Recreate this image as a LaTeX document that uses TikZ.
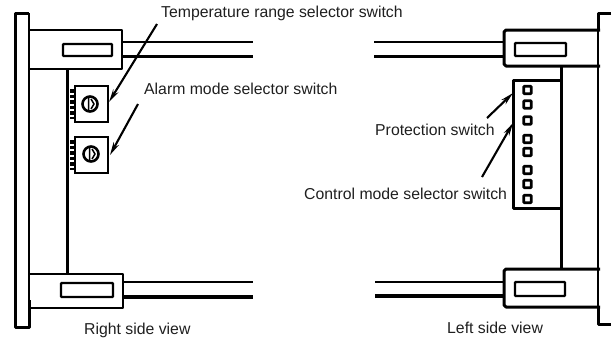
\documentclass[tikz,border=0pt]{standalone}
\usepackage{fontspec}
\setmainfont{Liberation Sans}
\usetikzlibrary{arrows.meta}
\tikzset{
 x=1pt,y=-1pt,
 outline/.style={line width=2pt,line join=round},
 heavy/.style={line width=3pt,line join=round},
 thin wire/.style={line width=2.8pt},
 thick wire/.style={line width=3.8pt},
 slot/.style={line width=2.4pt,rounded corners=0.8pt},
 label/.style={font=\fontsize{15.8pt}{18pt}\selectfont,inner sep=0pt,text=black!88},
 pointer/.style={line width=2.1pt,-{Stealth[length=13pt,width=6pt]}},
 sq/.style={draw,line width=2.6pt,minimum size=7.5pt,inner sep=0pt,rounded corners=0.8pt},
 dial/.style={draw,circle,line width=2.6pt,minimum size=15pt,inner sep=0pt},
 swbox/.style={draw,line width=2.6pt,minimum width=33pt,minimum height=36pt,inner sep=0pt},
 teeth/.style={line width=4pt,dash pattern=on 3.5pt off 2pt},
}
\begin{document}
\begin{tikzpicture}
\useasboundingbox (0,0) rectangle (612,341);
% ---- left drawing
\draw[heavy] (15,158) -- (15,327) -- (29,327) -- (29,300);
\draw[heavy] (15,158) -- (15,13) -- (29,13);
\draw[outline] (29,13) -- (29,300);
\draw[outline] (29,30) -- (122,30) -- (122,69) -- (29,69);
\draw[outline] (29,274) -- (123,274) -- (123,308) -- (29,308);
\draw[heavy] (67,68) -- (67,273);
\draw[slot] (63,44) rectangle (112,56);
\draw[slot] (61,283) rectangle (113,297);
\draw[thin wire] (122,42) -- (253,42);
\draw[thick wire] (122,56.5) -- (253,56.5);
\draw[thin wire] (123,282) -- (253,282);
\draw[thick wire] (123,297) -- (253,297);
\draw[teeth] (72,89) -- (72,119);
\draw[teeth] (72,140) -- (72,170);
\node[swbox] (sw1) at (91.5,104) {};
\node[swbox] (sw2) at (91.5,155) {};
\node[dial] (d1) at (90,104) {};
\node[dial] (d2) at (91,154) {};
\draw[line width=1.5pt] (88.5,98) -- (88.5,110) (91,99) -- (94,104) -- (91,109);
\draw[line width=1.5pt] (89.5,148) -- (89.5,160) (92,149) -- (95,154) -- (92,159);
% ---- right drawing
\draw[heavy] (611,13) -- (598,13) -- (598,30);
\draw[outline] (598,13) -- (598,323);
\draw[heavy] (598,306) -- (598,324) -- (611,324);
\draw[heavy] (600,30) -- (506,30) -- (504,32) -- (504,64) -- (506,66) -- (600,66);
\draw[heavy] (600,269) -- (506,269) -- (504,271) -- (504,305) -- (506,307) -- (600,307);
\draw[heavy] (561,66) -- (561,269);
\draw[slot] (515,43) rectangle (566,56);
\draw[slot] (515,282) rectangle (565,296);
\draw[thin wire] (374,42) -- (504,42);
\draw[thick wire] (374,56.5) -- (504,56.5);
\draw[thin wire] (375,282) -- (504,282);
\draw[thick wire] (375,296) -- (504,296);
\draw[heavy] (561,80) -- (513,80) -- (513,208) -- (561,208);
\foreach \yy in {90,104.5,120.5,139,152,170,184,199}
  \node[sq] at (527.5,\yy) {};
% ---- labels and pointers
\node[label,anchor=west] (t1) at (161,13) {Temperature range selector switch};
\node[label,anchor=west] (t2) at (144,89) {Alarm mode selector switch};
\node[label,anchor=west] (t3) at (375,130) {Protection switch};
\node[label,anchor=west] (t4) at (304,194) {Control mode selector switch};
\node[label,anchor=west] (t5) at (84,330) {Right side view};
\node[label,anchor=west] (t6) at (447,328) {Left side view};
\coordinate (a1) at (157,24);
\coordinate (a2) at (138,104);
\coordinate (a3) at (487,118);
\coordinate (a4) at (482,177);
\coordinate (b1) at (109,102);
\coordinate (b2) at (110,155);
\coordinate (b3) at (513,93);
\coordinate (b4) at (513,123);
\draw[pointer] (a1) -- (b1);
\draw[pointer] (a2) -- (b2);
\draw[pointer] (a3) -- (b3);
\draw[pointer] (a4) -- (b4);
\end{tikzpicture}
\end{document}
